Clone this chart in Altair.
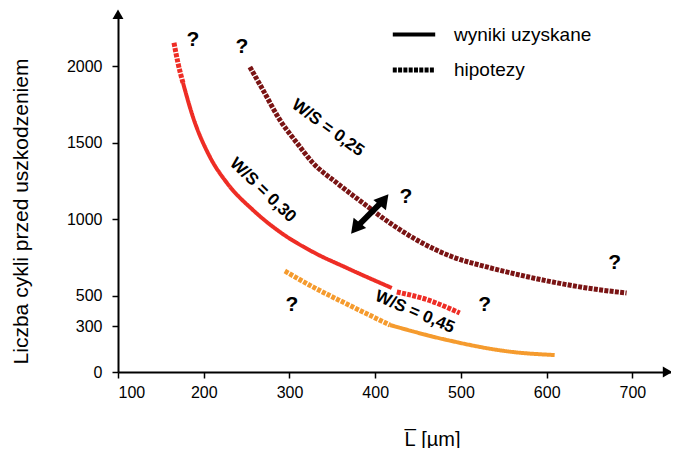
import altair as alt
import pandas as pd

# ---------------- data ----------------
# W/S = 0,25 (dark red) - hypothesis only
ws025_hyp_x = [253.8, 269, 288.8, 308.6, 327.3, 355.2, 385.5, 417, 448.5, 490.4, 530, 568.5, 607, 646.6, 693.2]
ws025_hyp_y = [1997, 1847, 1650, 1500, 1369, 1238, 1107, 976, 864, 753, 688, 635, 589, 550, 517]

# W/S = 0,30 (red)
ws030_hypA_x = [165.3, 169.9, 175.8]
ws030_hypA_y = [2155, 2024, 1893]
ws030_res_x = [175.8, 187.4, 207.2, 227, 257.3, 288.8, 327.3, 366.9, 419.3]
ws030_res_y = [1893, 1670, 1408, 1238, 1061, 917, 786, 681, 550]
ws030_hypB_x = [425.2, 461.3, 498.6]
ws030_hypB_y = [524, 472, 386]

# W/S = 0,45 (orange)
ws045_hyp_x = [294.6, 327.3, 366.9, 417]
ws045_hyp_y = [661, 557, 445, 308]
ws045_res_x = [417, 483.4, 560.4, 609.3]
ws045_res_y = [308, 210, 131, 111]

series_names = ["0,25", "0,30", "0,45"]
series_colors = ["#7a1414", "#ee2d25", "#f59b2e"]
line_types = ["wyniki uzyskane", "hipotezy"]

x_ticks = [100, 200, 300, 400, 500, 600, 700]
y_ticks = [0, 300, 500, 1000, 1500, 2000]

label_texts = ["W/S = 0,25", "W/S = 0,30", "W/S = 0,45"]
label_x = [344.8, 269, 446.2]
label_y = [1598, 1190, 393]
label_angle = [36, 44, 23]

q_x = [187.4, 244.5, 435.7, 679.3, 302.8, 527.7]
q_y = [2174, 2128, 1146, 714, 439, 439]

# double arrow (shaft ends / head centres)
arrow_x = [377, 410.3]
arrow_y = [941, 1128]
arrow_head_angle = [219, 39]

# axis arrow heads
axis_head_x = [741, 100]
axis_head_y = [0, 2342]
axis_head_shape = ["triangle-right", "triangle-up"]

# ---------------- build tables ----------------
rows = []
def add(seg, seria, typ, xs_, ys_):
    for i, (a, b) in enumerate(zip(xs_, ys_)):
        rows.append({"x": a, "y": b, "seria": seria, "typ": typ, "seg": seg, "i": i})

add("s1", "0,25", "hipotezy", ws025_hyp_x, ws025_hyp_y)
add("s2", "0,30", "hipotezy", ws030_hypA_x, ws030_hypA_y)
add("s3", "0,30", "wyniki uzyskane", ws030_res_x, ws030_res_y)
add("s4", "0,30", "hipotezy", ws030_hypB_x, ws030_hypB_y)
add("s5", "0,45", "hipotezy", ws045_hyp_x, ws045_hyp_y)
add("s6", "0,45", "wyniki uzyskane", ws045_res_x, ws045_res_y)
df = pd.DataFrame(rows)

labels_df = pd.DataFrame({"x": label_x, "y": label_y, "t": label_texts, "a": label_angle})
q_df = pd.DataFrame({"x": q_x, "y": q_y, "t": ["?"] * len(q_x)})
arrow_df = pd.DataFrame({"x": arrow_x, "y": arrow_y, "a": arrow_head_angle})
axis_head_df = pd.DataFrame({"x": axis_head_x, "y": axis_head_y, "s": axis_head_shape})

FONT = "Liberation Sans, Arial"

xs = alt.Scale(domain=[100, 745], nice=False, zero=False)
ys = alt.Scale(domain=[0, 2350], nice=False, zero=False)

xaxis = alt.Axis(
    values=x_ticks, format="d", title="L\u0305 [\u00b5m]", grid=False,
    domainColor="black", domainWidth=2, tickColor="black", tickWidth=1.5, tickSize=6,
    labelFont=FONT, labelFontSize=16, labelColor="black", labelPadding=6,
    titleFont=FONT, titleFontSize=20, titleFontWeight="normal", titleColor="black",
    titleX=314, titleY=67, titleAlign="center", titleBaseline="middle",
)
yaxis = alt.Axis(
    values=y_ticks, format="d", title="Liczba cykli przed uszkodzeniem", grid=False,
    domainColor="black", domainWidth=2, tickColor="black", tickWidth=1.5, tickSize=6,
    labelFont=FONT, labelFontSize=16, labelColor="black", labelPadding=10,
    titleFont=FONT, titleFontSize=21, titleFontWeight="normal", titleColor="black",
    titleX=-97, titleY=198, titleAngle=270, titleAlign="center", titleBaseline="middle",
)

lines = alt.Chart(df).mark_line(interpolate="monotone", strokeCap="butt").encode(
    x=alt.X("x:Q", scale=xs, axis=xaxis),
    y=alt.Y("y:Q", scale=ys, axis=yaxis),
    color=alt.Color("seria:N", scale=alt.Scale(domain=series_names, range=series_colors), legend=None),
    strokeDash=alt.StrokeDash(
        "typ:N",
        scale=alt.Scale(domain=line_types, range=[[1, 0], [4, 1.3]]),
        legend=alt.Legend(
            orient="none", legendX=272, legendY=-2, title=None,
            symbolType="stroke", symbolSize=1800, symbolStrokeWidth=4.5,
            symbolStrokeColor="black", labelFont=FONT, labelFontSize=19,
            labelColor="black", labelOffset=16, rowPadding=1,
        ),
    ),
    strokeWidth=alt.StrokeWidth("typ:N", scale=alt.Scale(domain=line_types, range=[4, 5]), legend=None),
    detail="seg:N",
    order="i:Q",
)

labels = alt.Chart(labels_df).mark_text(
    font="Liberation Sans", fontSize=17, fontWeight="bold", color="black"
).encode(x=alt.X("x:Q", scale=xs), y=alt.Y("y:Q", scale=ys), text="t:N", angle=alt.Angle("a:Q", scale=None))

qs = alt.Chart(q_df).mark_text(
    font="Liberation Sans", fontSize=21, fontWeight="bold", color="black"
).encode(x=alt.X("x:Q", scale=xs), y=alt.Y("y:Q", scale=ys), text="t:N")

shaft = alt.Chart(arrow_df).mark_line(color="black", strokeWidth=6).encode(
    x=alt.X("x:Q", scale=xs), y=alt.Y("y:Q", scale=ys)
)
heads = alt.Chart(arrow_df).mark_point(shape="triangle-up", filled=True, color="black", size=260, opacity=1).encode(
    x=alt.X("x:Q", scale=xs), y=alt.Y("y:Q", scale=ys), angle=alt.Angle("a:Q", scale=None)
)

axis_heads = alt.Chart(axis_head_df).mark_point(filled=True, color="black", size=120, opacity=1).encode(
    x=alt.X("x:Q", scale=xs), y=alt.Y("y:Q", scale=ys),
    shape=alt.Shape("s:N", scale=None),
)

chart = alt.layer(lines, shaft, heads, labels, qs, axis_heads).properties(
    width=553, height=359,
    autosize=alt.AutoSizeParams(type="none"),
    padding={"left": 110, "top": 5, "right": 0, "bottom": 76},
    background="white",
).configure_view(stroke=None)

chart.save("out.html", embed_options={"renderer": "svg", "actions": False})
